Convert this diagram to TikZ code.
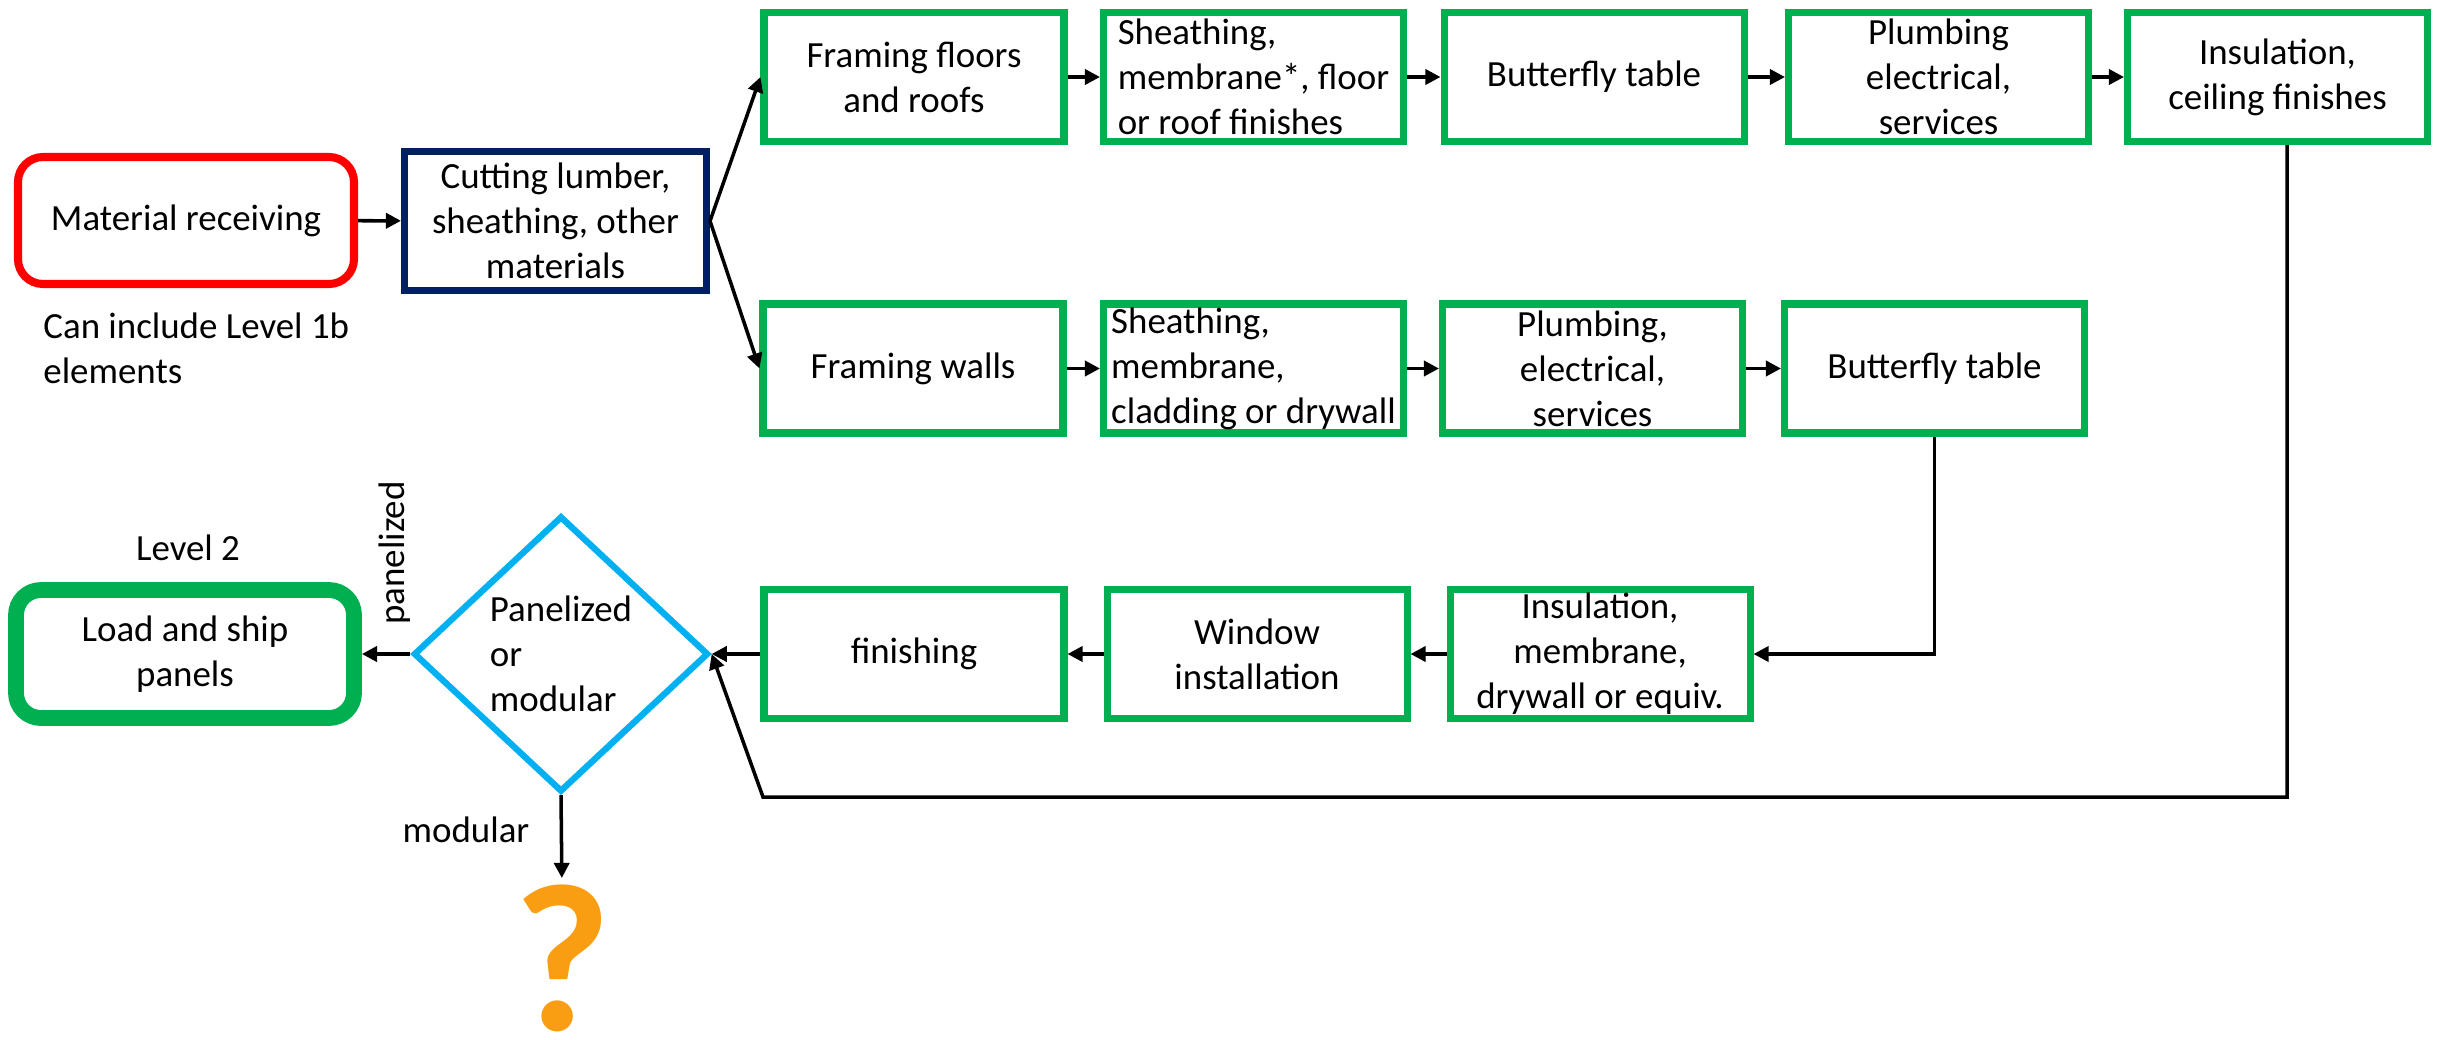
\documentclass[tikz,border=0pt]{standalone}
\usepackage{fontspec}
\setmainfont{Carlito}
\usetikzlibrary{shapes.geometric,arrows.meta}
\definecolor{stepgreen}{HTML}{00B050}
\definecolor{cutnavy}{HTML}{002060}
\definecolor{choiceblue}{HTML}{00B0F0}
\definecolor{askorange}{HTML}{F99E12}

\begin{document}
\begin{tikzpicture}[
        font=\fontsize{10.5}{12.8}\selectfont,
        stepbox/.style={draw=stepgreen, line width=2pt, minimum width=3cm, minimum height=1.29cm, align=center, inner sep=1pt},
        flow/.style={-{Triangle[length=4.3pt,width=4.3pt]}, line width=1pt},
    ]
        \useasboundingbox (0,0) rectangle (24.42,-10.39);

        %%receiving and cutting
        \node[draw=red, line width=2.3pt, rounded corners=0.25cm, minimum width=3.36cm, minimum height=1.27cm] (recv) at(1.86, -2.205){Material receiving};
        \node[draw=cutnavy, line width=2pt, minimum width=3.02cm, minimum height=1.29cm, align=center] (cut) at(5.555, -2.21){Cutting lumber,\\sheathing, other\\materials};
        \node[anchor=west, align=left] (note) at(0.31, -3.48){Can include Level 1b\\elements};

        %%floors and roofs
        \node[stepbox] (floors) at(9.14, -0.77){Framing floors\\and roofs};
        \node[stepbox, align=left] (sheathF) at(12.535, -0.77){Sheathing,\\membrane*, floor\\or roof finishes};
        \node[stepbox] (bflyF) at(15.94, -0.77){Butterfly table};
        \node[stepbox] (plumbF) at(19.385, -0.77){Plumbing\\electrical,\\services};
        \node[stepbox] (insulF) at(22.775, -0.77){Insulation,\\ceiling finishes};

        %%walls
        \node[stepbox] (walls) at(9.13, -3.685){Framing walls};
        \node[stepbox, align=left] (sheathW) at(12.535, -3.685){Sheathing,\\membrane,\\cladding or drywall};
        \node[stepbox] (plumbW) at(15.925, -3.685){Plumbing,\\electrical,\\services};
        \node[stepbox] (bflyW) at(19.345, -3.685){Butterfly table};

        %%walls, way back
        \node[stepbox] (insulW) at(16.0, -6.54){Insulation,\\membrane,\\drywall or equiv.};
        \node[stepbox] (window) at(12.57, -6.54){Window\\installation};
        \node[stepbox] (finish) at(9.14, -6.54){finishing};

        %%decision and shipping
        \node[draw=choiceblue, line width=1.8pt, diamond, minimum width=2.95cm, minimum height=2.76cm, inner sep=0pt, align=left] (choice) at(5.61, -6.54){Panelized\\or\\modular};
        \node[draw=stepgreen, line width=4.5pt, rounded corners=0.25cm, minimum width=3.38cm, minimum height=1.28cm, align=center] (ship) at(1.85, -6.54){Load and ship\\panels};
        \node (level) at(1.88, -5.48){Level 2};
        \node[rotate=90] (panelized) at(3.95, -5.53){panelized};
        \node (modular) at(4.66, -8.3){modular};
        \node[text=askorange, font=\fontsize{60}{60}\selectfont\bfseries, text height=1.38cm, text depth=0pt, inner sep=0pt, anchor=north] (ask) at(5.62, -8.92){?};

        %%draw the arrows
        \draw[flow](recv) to (cut);
        \draw[flow](cut.east) to (floors.west);
        \draw[flow](cut.east) to (walls.west);

        \draw[flow](floors) to (sheathF);
        \draw[flow](sheathF) to (bflyF);
        \draw[flow](bflyF) to (plumbF);
        \draw[flow](plumbF) to (insulF);

        \draw[flow](walls) to (sheathW);
        \draw[flow](sheathW) to (plumbW);
        \draw[flow](plumbW) to (bflyW);
        \draw[flow](bflyW.south) |- (insulW.east);

        \draw[flow](insulW) to (window);
        \draw[flow](window) to (finish);
        \draw[flow](finish) to (choice);

        %%floors come round underneath
        \coordinate (loopR) at(22.87, -7.97);
        \coordinate (loopL) at(7.63, -7.97);
        \draw[flow](insulF.south -| loopR) to (loopR) to (loopL) to (choice.east);

        \draw[flow](choice) to (ship);
        \draw[flow, shorten >=0.14cm](choice.south) to (ask.north);

    \end{tikzpicture}
\end{document}
